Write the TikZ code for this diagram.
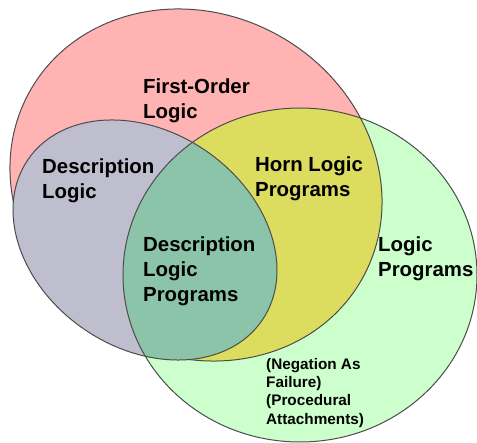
\documentclass[tikz,border=0pt]{standalone}
\usepackage{fontspec}
\setmainfont{Liberation Sans}
\definecolor{folpink}{HTML}{FFB3B3}
\definecolor{dlgrey}{HTML}{BEBECE}
\definecolor{lpgreen}{HTML}{CCFFCC}
\definecolor{hornyellow}{HTML}{DCDC5F}
\definecolor{dlpteal}{HTML}{8CC4AA}
\begin{document}
\begin{tikzpicture}[x=1pt, y=-1pt, line join=round, line cap=round,
    rim/.style={draw=black!70, line width=1pt},
    bigtext/.style={font=\fontsize{20.4}{25}\selectfont\bfseries, align=left, anchor=north west, inner sep=0pt},
    smalltext/.style={font=\fontsize{15.3}{18.3}\selectfont\bfseries, align=left, anchor=north west, inner sep=0pt}]
    \def\folpath{(196,185) circle [x radius=190.8pt, y radius=170.8pt, rotate=-30]}
    \def\dlpath{(145,240) circle [x radius=142pt, y radius=108pt, rotate=-34.6]}
    \def\lppath{(300,275) circle [x radius=177pt, y radius=167pt]}
    \useasboundingbox (0,0) rectangle (477,443);
    \fill[folpink] \folpath;
    \fill[lpgreen] \lppath;
    \begin{scope}
        \clip \lppath;
        \fill[hornyellow] \folpath;
    \end{scope}
    \draw[rim] \folpath;
    \fill[dlgrey] \dlpath;
    \begin{scope}
        \clip \dlpath;
        \fill[dlpteal] \lppath;
    \end{scope}
    \draw[rim] \dlpath;
    \draw[rim] \lppath;
    \node[bigtext] (fol) at (143,79) {First-Order\\Logic};
    \node[bigtext] (dl) at (42,159) {Description\\Logic};
    \node[bigtext] (horn) at (255,157) {Horn Logic\\Programs};
    \node[bigtext] (dlp) at (143,237) {Description\\Logic\\Programs};
    \node[bigtext] (lp) at (378,237) {Logic\\Programs};
    \node[smalltext] (naf) at (266,358) {(Negation As\\Failure)\\(Procedural\\Attachments)};
\end{tikzpicture}
\end{document}
